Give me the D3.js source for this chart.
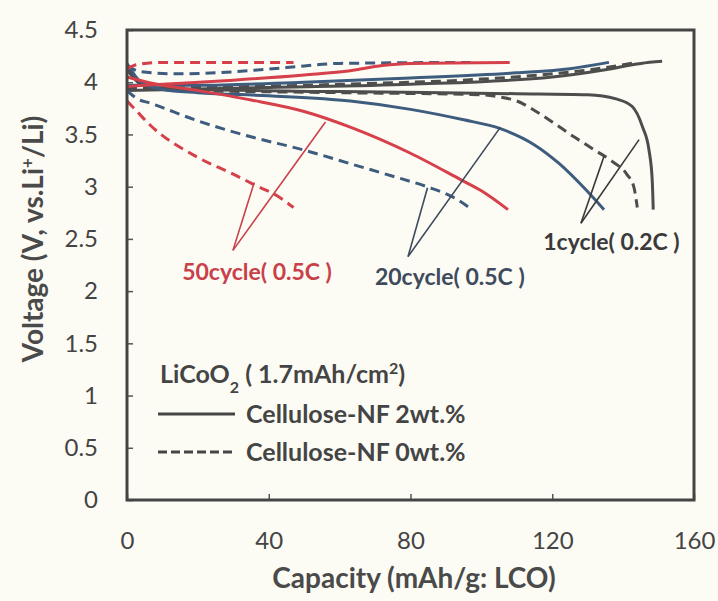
<!DOCTYPE html>
<html>
<head>
<meta charset="utf-8">
<script src="https://cdn.jsdelivr.net/npm/d3@7"></script>
<style>
  body { margin: 0; background: #fcfcf5; }
  svg { display: block; font-family: Lato, 'Open Sans', sans-serif; }
</style>
</head>
<body>
<svg id="chart"></svg>
<script>
const w = 718;
const h = 601;

// axis ticks
const capTicks = [0, 40, 80, 120, 160];
const voltTicks = [0, 0.5, 1, 1.5, 2, 2.5, 3, 3.5, 4, 4.5];

// [capacity mAh/g, voltage V]
const c1Solid = [[0, 3.92], [40, 3.95], [80, 3.98], [120, 4.05], [135, 4.12], [145, 4.18], [151, 4.2]];
const d1Solid = [[0, 4.12], [4, 3.98], [10, 3.94], [20, 3.93], [60, 3.91], [110, 3.89], [130, 3.88], [138, 3.84], [142.5, 3.77], [145.5, 3.57], [147.3, 3.35], [148.2, 3.07], [148.5, 2.78]];
const c1Dash = [[0, 3.94], [20, 3.95], [60, 3.98], [100, 4.03], [120, 4.08], [135, 4.14], [144, 4.19]];
const d1Dash = [[0, 4.15], [4, 3.98], [10, 3.93], [20, 3.92], [60, 3.9], [100, 3.88], [105, 3.86], [110, 3.82], [115, 3.73], [120, 3.62], [126, 3.48], [132, 3.35], [137, 3.24], [141, 3.12], [143, 3.0], [144, 2.8]];

const c20Solid = [[0, 3.97], [20, 3.97], [50, 4.0], [80, 4.04], [110, 4.09], [125, 4.13], [136, 4.19]];
const d20Solid = [[0, 4.18], [4, 4.0], [10, 3.93], [20, 3.9], [40, 3.87], [63, 3.82], [80, 3.74], [95, 3.64], [105, 3.56], [115, 3.4], [122, 3.22], [129.5, 2.97], [134.6, 2.78]];
const c20Dash = [[0, 4.16], [4, 4.1], [15, 4.08], [30, 4.1], [45, 4.14], [60, 4.18], [97, 4.19]];
const d20Dash = [[0, 3.92], [3, 3.84], [6.5, 3.8], [20, 3.63], [34.7, 3.48], [50, 3.35], [63, 3.22], [75, 3.1], [84.6, 3.0], [92, 2.9], [97.4, 2.78]];

const c50Solid = [[0, 3.96], [10, 3.98], [30, 4.02], [50, 4.07], [63, 4.11], [72, 4.16], [80, 4.18], [108, 4.19]];
const d50Solid = [[0, 4.05], [7, 3.99], [20, 3.92], [35, 3.83], [50, 3.72], [63, 3.57], [80, 3.32], [94, 3.07], [100, 2.96], [107.5, 2.78]];
const c50Dash = [[0, 4.13], [3, 4.17], [10, 4.19], [30, 4.19], [47, 4.19]];
const d50Dash = [[0, 3.82], [2, 3.75], [6.5, 3.59], [20, 3.28], [30, 3.12], [37, 3.0], [42, 2.92], [47, 2.8]];

// labels with their pointer lines (data units)
const notes = [
  { text: '50cycle( 0.5C )', color: '#c9404a', label: [36.7, 2.18], apex: [29.9, 2.39], targets: [[35.9, 3.04], [56, 3.62]] },
  { text: '20cycle( 0.5C )', color: '#3e4b5c', label: [91.1, 2.14], apex: [79.3, 2.33], targets: [[84.8, 2.99], [105.4, 3.57]] },
  { text: '1cycle( 0.2C )', color: '#3a3a3a', label: [136.7, 2.47], apex: [128.1, 2.65], targets: [[134.6, 3.29], [144.5, 3.45]] }
];

const svg = d3.select('#chart').attr('width', w).attr('height', h);

svg.append('rect').attr('width', w).attr('height', h).attr('fill', '#fcfcf5');

const x = d3.scaleLinear().domain([0, 160]).range([127, 694]);
const y = d3.scaleLinear().domain([0, 4.5]).range([500, 30]);

const line = d3.line()
  .x(d => x(d[0]))
  .y(d => y(d[1]))
  .curve(d3.curveMonotoneX);

const gray = '#4d4d4d';
const blue = '#3d5c7e';
const red = '#d6404a';

const series = [
  { pts: c1Solid, color: gray, dash: null },
  { pts: d1Solid, color: gray, dash: null },
  { pts: c1Dash, color: gray, dash: '10,6' },
  { pts: d1Dash, color: gray, dash: '10,6' },
  { pts: c20Solid, color: blue, dash: null },
  { pts: d20Solid, color: blue, dash: null },
  { pts: c20Dash, color: blue, dash: '10,6' },
  { pts: d20Dash, color: blue, dash: '10,6' },
  { pts: c50Solid, color: red, dash: null },
  { pts: d50Solid, color: red, dash: null },
  { pts: c50Dash, color: red, dash: '10,6' },
  { pts: d50Dash, color: red, dash: '10,6' }
];

svg.append('g')
  .selectAll('path')
  .data(series)
  .enter()
  .append('path')
  .attr('d', d => line(d.pts))
  .attr('fill', 'none')
  .attr('stroke', d => d.color)
  .attr('stroke-width', 3)
  .attr('stroke-dasharray', d => d.dash);

// pointer lines and labels
notes.forEach(n => {
  n.targets.forEach(t => {
    svg.append('line')
      .attr('x1', x(n.apex[0]))
      .attr('y1', y(n.apex[1]))
      .attr('x2', x(t[0]))
      .attr('y2', y(t[1]))
      .attr('stroke', n.color)
      .attr('stroke-width', 1.6);
  });
  svg.append('text')
    .text(n.text)
    .attr('x', x(n.label[0]))
    .attr('y', y(n.label[1]))
    .attr('dy', '0.35em')
    .attr('text-anchor', 'middle')
    .attr('fill', n.color)
    .style('font-size', '23px')
    .style('font-weight', 700);
});

// axes
const yAxis = d3.axisLeft(y).tickValues(voltTicks).tickSize(-6).tickPadding(29).tickFormat(d3.format(''));
const gy = svg.append('g').attr('transform', 'translate(127,0)').call(yAxis);

const xAxis = d3.axisBottom(x).tickValues(capTicks).tickSize(-6).tickPadding(32).tickFormat(d3.format('d'));
const gx = svg.append('g').attr('transform', 'translate(0,500)').call(xAxis);

[gx, gy].forEach(g => {
  g.select('.domain').remove();
  g.selectAll('.tick line').attr('stroke', '#555').attr('stroke-width', 1.5);
  g.selectAll('.tick text')
    .attr('fill', '#444')
    .style('font-size', '24px')
    .style('font-family', 'Lato, sans-serif');
});

// frame
svg.append('rect')
  .attr('x', 127)
  .attr('y', 30)
  .attr('width', 567)
  .attr('height', 470)
  .attr('fill', 'none')
  .attr('stroke', '#444')
  .attr('stroke-width', 3);

// axis titles
svg.append('text')
  .text('Capacity (mAh/g: LCO)')
  .attr('x', 414)
  .attr('y', 588)
  .attr('text-anchor', 'middle')
  .attr('fill', '#4a4a4a')
  .style('font-size', '28px')
  .style('font-weight', 700);

const yt = svg.append('text')
  .attr('transform', 'translate(43,239) rotate(-90)')
  .attr('text-anchor', 'middle')
  .attr('fill', '#4a4a4a')
  .style('font-size', '28px')
  .style('font-weight', 700);
yt.append('tspan').text('Voltage (V, vs.Li');
yt.append('tspan').text('+').attr('baseline-shift', 'super').style('font-size', '17px');
yt.append('tspan').text('/Li)');

// legend
const lg = svg.append('g');
const t0 = lg.append('text')
  .attr('x', 160)
  .attr('y', 383)
  .attr('fill', '#444')
  .style('font-size', '25px')
  .style('font-weight', 700);
t0.append('tspan').text('LiCoO');
t0.append('tspan').text('2').attr('baseline-shift', 'sub').style('font-size', '16px');
t0.append('tspan').text(' ( 1.7mAh/cm');
t0.append('tspan').text('2').attr('baseline-shift', 'super').style('font-size', '16px');
t0.append('tspan').text(')');

const legendRows = [
  { text: 'Cellulose-NF 2wt.%', dash: null, v: 414 },
  { text: 'Cellulose-NF 0wt.%', dash: '9,4', v: 452 }
];
legendRows.forEach(r => {
  lg.append('line')
    .attr('x1', 158).attr('x2', 235)
    .attr('y1', r.v).attr('y2', r.v)
    .attr('stroke', '#444')
    .attr('stroke-width', 3)
    .attr('stroke-dasharray', r.dash);
  lg.append('text')
    .text(r.text)
    .attr('x', 246)
    .attr('y', r.v)
    .attr('dy', '0.35em')
    .attr('fill', '#444')
    .style('font-size', '25px')
    .style('font-weight', 700);
});
</script>
</body>
</html>
